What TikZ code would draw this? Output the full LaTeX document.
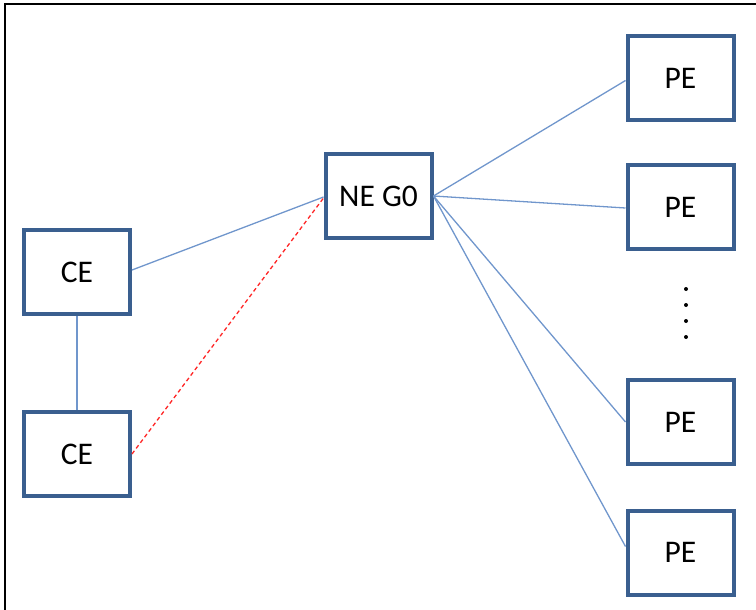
\documentclass[tikz,border=0pt]{standalone}
\usepackage{fontspec}
\setmainfont{Carlito}
\usetikzlibrary{calc}
\definecolor{boxblue}{HTML}{3A5F8F}
\definecolor{linkblue}{HTML}{7096CC}
\begin{document}
\begin{tikzpicture}[x=1pt,y=-1pt,
  netbox/.style={draw=boxblue,line width=4pt,fill=white,minimum width=106pt,minimum height=84pt,inner sep=0pt,font=\fontsize{31.5}{36}\selectfont},
  link/.style={draw=linkblue,line width=1.3pt},
  backup/.style={draw=red!85!white,line width=1.3pt,dash pattern=on 4pt off 3pt}]
\useasboundingbox (0,0) rectangle (756,610);
% outer frame (open on the right and bottom)
\draw[line width=2pt] (4.5,610) -- (4.5,4.5) -- (756,4.5);
% devices
\node[netbox] (ce1) at (77,272) {CE};
\node[netbox] (ce2) at (77,454) {CE};
\node[netbox] (ne)  at (378.5,196) {NE G0};
\node[netbox] (pe1) at (680.5,78.5) {PE};
\node[netbox] (pe2) at (680.5,207) {PE};
\node[netbox] (pe3) at (680.5,422) {PE};
\node[netbox] (pe4) at (680.5,552.5) {PE};
% ellipsis between the PE groups
\foreach \y in {289,305,321,337} \fill (686,\y) circle (2pt);
% links
\draw[link] ($(ce1.east)+(0,-2)$) -- ($(ne.west)+(0,1)$);
\draw[link] (ce1.south) -- (ce2.north);
\draw[backup] (ce2.east) -- ($(ne.west)+(0,2)$);
\draw[link] (ne.east) -- ($(pe1.west)+(0,2)$);
\draw[link] (ne.east) -- ($(pe2.west)+(0,1)$);
\draw[link] (ne.east) -- (pe3.west);
\draw[link] (ne.east) -- ($(pe4.west)+(0,-6)$);
\end{tikzpicture}
\end{document}
